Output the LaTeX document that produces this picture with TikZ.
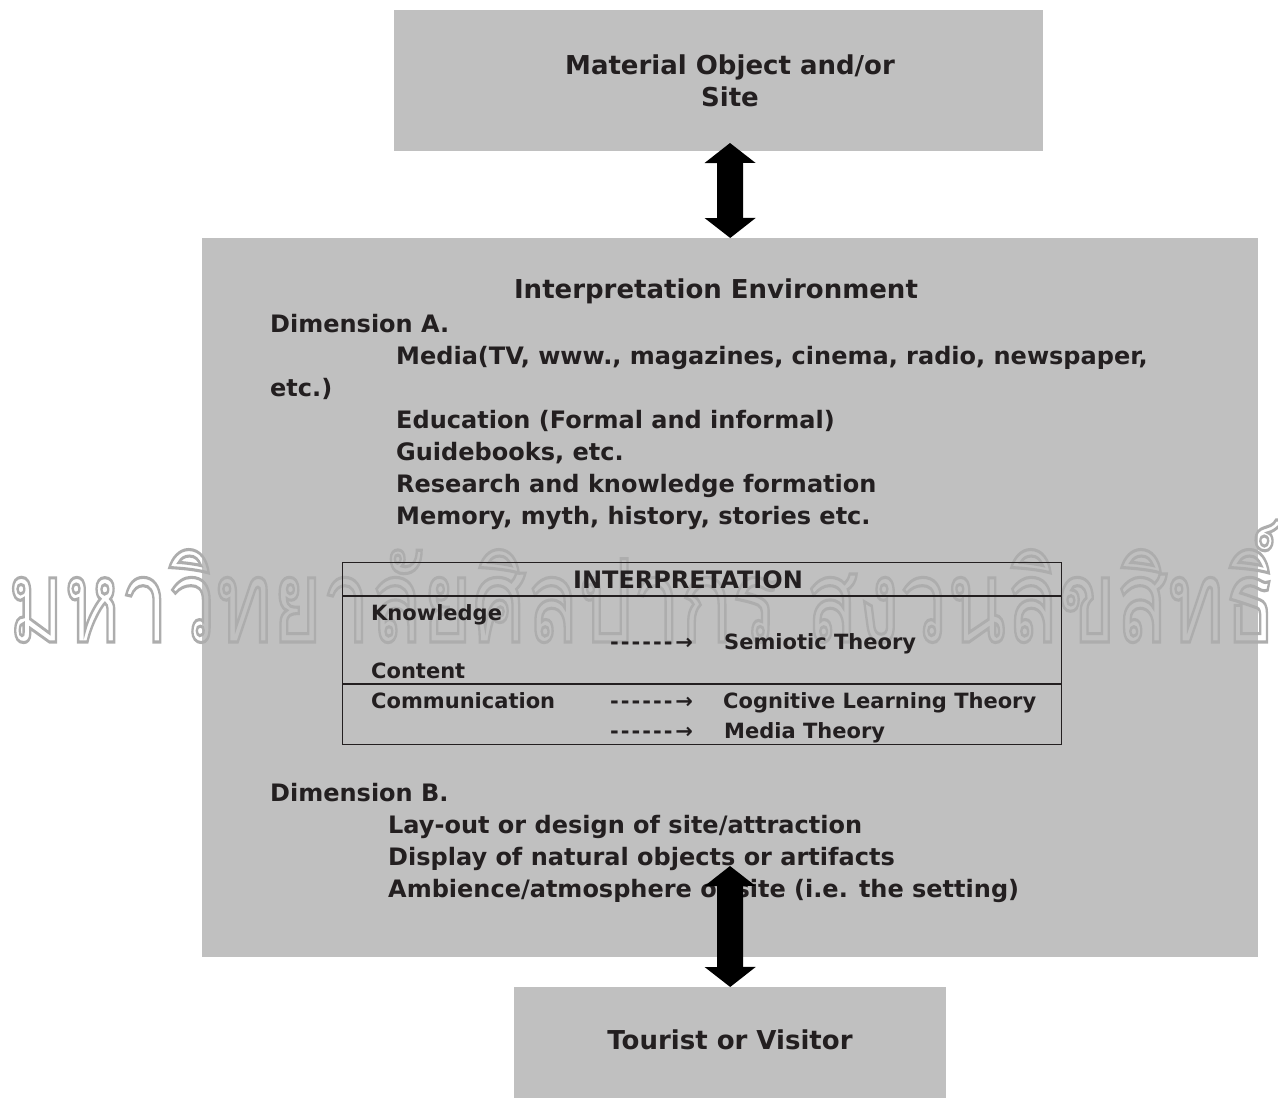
\documentclass[tikz,border=0pt]{standalone}
\usepackage{fontspec}
\setmainfont{DejaVu Sans}
\newfontfamily\thaifont[Script=Thai]{Loma}
\usepackage{xcolor}
\usetikzlibrary{arrows.meta,positioning}
\definecolor{BoxGray}{HTML}{C0C0C0}
\definecolor{Ink}{HTML}{231F20}
\definecolor{Mark}{HTML}{ADADAD}
\newcommand\dashlead{-\kern2pt-\kern2pt-\kern2pt-\kern2pt-\kern2pt-\kern3pt→}
\newcommand\ind{\hspace*{126pt}}

\begin{document}
\begin{tikzpicture}[x=1pt,y=-1pt, every node/.style={font=\bfseries\fontsize{26}{32}\selectfont,text=Ink,inner sep=0pt}, panel/.style={fill=BoxGray,anchor=north west}, listing/.style={font=\bfseries\fontsize{24}{32}\selectfont,anchor=base west,align=left}, small/.style={font=\bfseries\fontsize{21}{29.5}\selectfont}, tablerule/.style={draw=Ink,line width=1.3pt}, bigarr/.style={line width=26pt,{Triangle[length=20pt,width=50pt]}-{Triangle[length=20pt,width=50pt]}}]
\useasboundingbox (0,0) rectangle (1278,1099);
% boxes
\node[panel,minimum width=649pt,minimum height=141pt] (obj) at (394,10) {};
\node[panel,minimum width=1056pt,minimum height=719pt] (env) at (202,238) {};
\node[panel,minimum width=432pt,minimum height=111pt] (vis) at (514,987) {};
% watermark
\node[anchor=base west,text=Mark] (mark) at (8,642) {\resizebox{1268pt}{122pt}{\mdseries\thaifont\special{pdf:literal direct 1 Tr 0.7 w}มหาวิทยาลัยศิลปากร สงวนลิขสิทธิ์\special{pdf:literal direct 0 Tr}}};
\node[align=center] (objtxt) at (730,80.5) {Material Object and/or\\Site};
\node (vistxt) at (730,1040) {Tourist or Visitor};
\node[anchor=base] (envtitle) at (716,299) {Interpretation Environment};
\node[listing] (dima) at (270,524) {Dimension A.\\ \ind Media(TV, www., magazines, cinema, radio, newspaper,\\ etc.)\\ \ind Education (Formal and informal)\\ \ind Guidebooks, etc.\\ \ind Research and knowledge formation\\ \ind Memory, myth, history, stories etc.};
% interpretation table
\node[tablerule,anchor=north west,minimum width=719pt,minimum height=182pt] (interp) at (342,562) {};
\draw[tablerule] (interp.west |- 0,596) -- (interp.east |- 0,596);
\draw[tablerule] (interp.west |- 0,684) -- (interp.east |- 0,684);
\node[small,font=\bfseries\fontsize{24}{29.5}\selectfont,anchor=base] (interptitle) at (688,588) {INTERPRETATION};
\node[small,anchor=base west] (know) at (371,620) {Knowledge};
\node[small,anchor=base west] (cont) at (371,678) {Content};
\node[small,anchor=base west] (comm) at (371,708) {Communication};
\node[small,anchor=base west] (lead1) at (610,649) {\dashlead};
\node[small,anchor=base west] (lead2) at (610,708) {\dashlead};
\node[small,anchor=base west] (lead3) at (610,738) {\dashlead};
\node[small,anchor=base west] (semio) at (724,649) {Semiotic Theory};
\node[small,anchor=base west] (cogn) at (723,708) {Cognitive Learning Theory};
\node[small,anchor=base west] (media) at (724,738) {Media Theory};
\node[listing] (dimb) at (270,897) {Dimension B.\\ \hspace*{118pt}Lay-out or design of site/attraction\\ \hspace*{118pt}Display of natural objects or artifacts\\ \hspace*{118pt}Ambience/atmosphere of site (i.e. the setting)};
% arrows
\coordinate (objtip) at (730,143);
\coordinate (envtip) at (730,866);
\draw[bigarr] (objtip) -- (env.north);
\draw[bigarr] (envtip) -- (vis.north);
\end{tikzpicture}
\end{document}
